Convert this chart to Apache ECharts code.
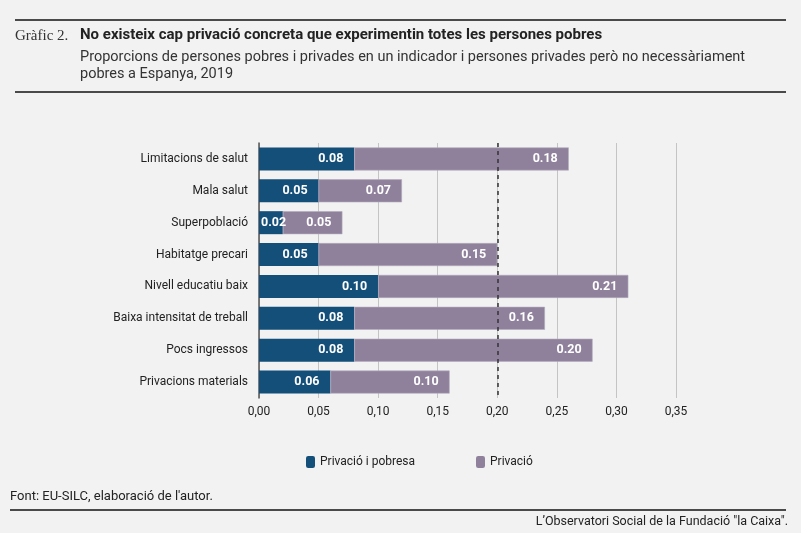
<!DOCTYPE html>
<html>
<head>
<meta charset="utf-8">
<script src="https://cdn.jsdelivr.net/npm/echarts@6/dist/echarts.min.js"></script>
<style>
  html, body { margin: 0; padding: 0; background: #f2f2f2; }
  #chart { width: 801px; height: 533px; }
</style>
</head>
<body>
<div id="chart"></div>
<script>
var categories = ['Limitacions de salut', 'Mala salut', 'Superpoblació', 'Habitatge precari',
  'Nivell educatiu baix', 'Baixa intensitat de treball', 'Pocs ingressos', 'Privacions materials'];
var pobresa = [0.08, 0.05, 0.02, 0.05, 0.10, 0.08, 0.08, 0.06];
var privacio = [0.18, 0.07, 0.05, 0.15, 0.21, 0.16, 0.20, 0.10];
var seriesNames = ['Privació i pobresa', 'Privació'];
var refLine = 0.20;

var chart = echarts.init(document.getElementById('chart'));
var font = 'Roboto, "Liberation Sans", sans-serif';
var narrow = '"Liberation Sans Narrow", Roboto, sans-serif';

function barLabel() {
  return {
    show: true,
    position: 'insideRight',
    distance: 11,
    color: '#fff',
    fontWeight: 'bold',
    fontSize: 12.5,
    fontFamily: font,
    formatter: function(p) { return p.value.toFixed(2); }
  };
}

// very short bars get their label pushed to the left edge
function barData(values) {
  return values.map(function(v) {
    if (v < 0.03) {
      return { value: v, label: { position: 'insideLeft', distance: 2 } };
    }
    return v;
  });
}

var legendText = { fontFamily: narrow, fontSize: 12, color: '#222' };

var option = {
  backgroundColor: '#f2f2f2',
  animation: false,
  grid: { left: 259, right: 125, top: 143, bottom: 135 },
  legend: [
    {
      data: [seriesNames[0]], left: 301, top: 451,
      itemWidth: 9, itemHeight: 12,
      itemStyle: { borderWidth: 0 },
      textStyle: legendText
    },
    {
      data: [seriesNames[1]], left: 471, top: 451,
      itemWidth: 9, itemHeight: 12,
      itemStyle: { borderWidth: 0 },
      textStyle: legendText
    }
  ],
  xAxis: {
    type: 'value',
    min: 0, max: 0.35, interval: 0.05,
    axisLine: { show: false },
    axisTick: { show: false },
    splitLine: { lineStyle: { color: '#c4c4c4', width: 1 } },
    axisLabel: {
      color: '#222', fontSize: 12, fontFamily: font, margin: 8,
      formatter: function(v) { return v.toFixed(2).replace('.', ','); }
    }
  },
  yAxis: {
    type: 'category',
    inverse: true,
    data: categories,
    axisLine: { lineStyle: { color: '#555', width: 1.5 } },
    axisTick: { show: false },
    axisLabel: { color: '#222', fontSize: 12, fontFamily: font, margin: 11 }
  },
  series: [
    {
      name: seriesNames[0],
      type: 'bar',
      stack: 'total',
      data: barData(pobresa),
      barWidth: 23,
      itemStyle: { color: '#134f78' },
      label: barLabel(),
      markLine: {
        silent: true,
        symbol: 'none',
        label: { show: false },
        lineStyle: { color: '#333', type: [4, 4], width: 1.5 },
        data: [{ xAxis: refLine }]
      }
    },
    {
      name: seriesNames[1],
      type: 'bar',
      stack: 'total',
      data: privacio,
      barWidth: 23,
      itemStyle: { color: '#8f819c', borderColor: '#b3a9bd', borderWidth: 0.6 },
      label: barLabel()
    }
  ],
  graphic: [
    { type: 'rect', shape: { x: 15, y: 19, width: 771, height: 2 }, style: { fill: '#4a4a4a' } },
    { type: 'rect', shape: { x: 15, y: 91, width: 771, height: 2 }, style: { fill: '#4a4a4a' } },
    { type: 'rect', shape: { x: 10, y: 509, width: 776, height: 2 }, style: { fill: '#4a4a4a' } },
    { type: 'text', left: 15, top: 29, style: { text: 'Gràfic 2.', font: '15px "Liberation Serif", serif', fill: '#333' } },
    { type: 'text', left: 80, top: 28, style: { text: 'No existeix cap privació concreta que experimentin totes les persones pobres', font: 'bold 15px ' + narrow, fill: '#222' } },
    { type: 'text', left: 80, top: 49, style: { text: 'Proporcions de persones pobres i privades en un indicador i persones privades però no necessàriament\npobres a Espanya, 2019', font: '14.5px ' + font, lineHeight: 17, fill: '#333' } },
    { type: 'text', left: 10, top: 490, style: { text: 'Font: EU-SILC, elaboració de l\'autor.', font: '13px ' + narrow, fill: '#222' } },
    { type: 'text', right: 13, top: 515, style: { text: 'L’Observatori Social de la Fundació "la Caixa".', font: '12.5px ' + narrow, fill: '#222' } }
  ]
};

chart.setOption(option);
</script>
</body>
</html>
